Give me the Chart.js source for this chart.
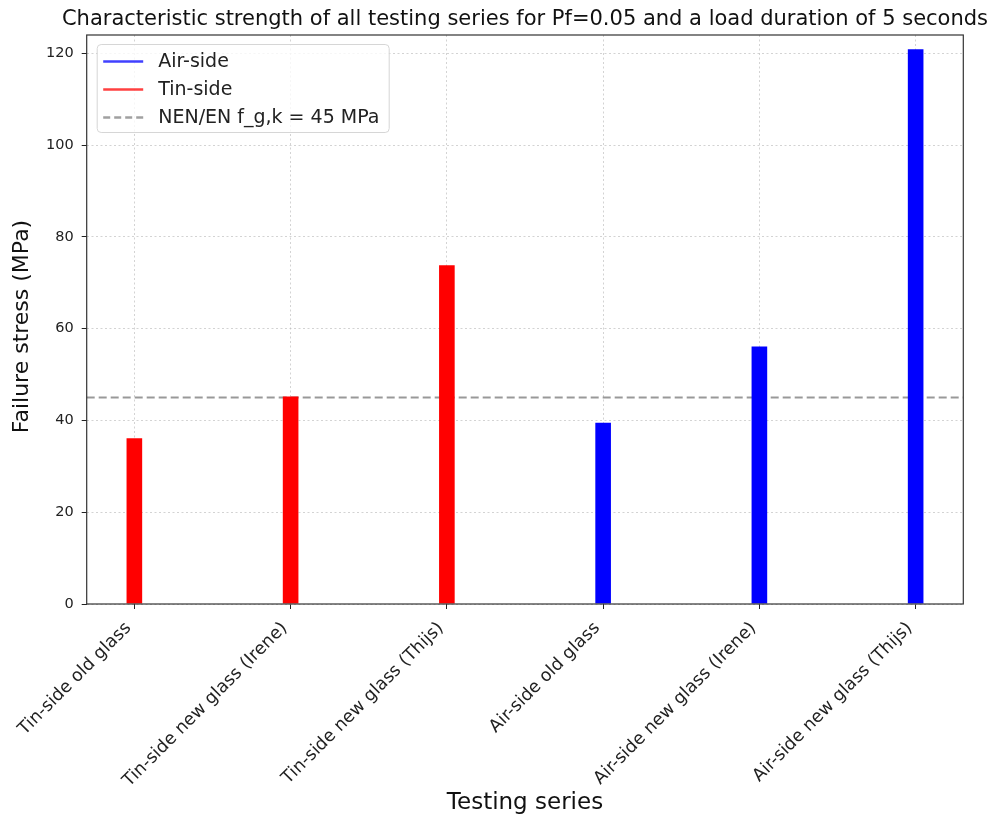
<!DOCTYPE html>
<html>
<head>
<meta charset="utf-8">
<script src="https://cdn.jsdelivr.net/npm/chart.js@4.4.1/dist/chart.umd.min.js"></script>
<style>
  html, body { margin: 0; padding: 0; background: #fff; }
  #wrap { width: 997px; height: 820px; }
</style>
</head>
<body>
<div id="wrap"><canvas id="strengthChart" width="997" height="820"></canvas></div>
<script>
// Testing series, one per x position
const series = ['Tin-side old glass', 'Tin-side new glass (Irene)', 'Tin-side new glass (Thijs)',
                'Air-side old glass', 'Air-side new glass (Irene)', 'Air-side new glass (Thijs)'];
const tinIndex = [0, 1, 2];
const tinStrength = [36.1, 45.2, 73.8];
const airIndex = [3, 4, 5];
const airStrength = [39.5, 56.1, 120.9];
const normValue = 45;
const normLabel = 'NEN/EN f_g,k = 45 MPa';
const chartTitle = 'Characteristic strength of all testing series for Pf=0.05 and a load duration of 5 seconds';
const yTitle = 'Failure stress (MPa)';
const yTicks = [0, 20, 40, 60, 80, 100, 120];
const yMax = 124;
const xMin = -0.305, xMax = 5.305;

const FONT = 'DejaVu Sans';
const gridStyle = {
    color: 'rgba(185,185,185,0.8)',
    lineWidth: 0.8,
    offset: false,
    tickLength: 5,
    tickColor: '#222',
    tickWidth: 1,
    tickBorderDash: []
};
// dotted grid lines (v4 keeps the grid dash under border)
const borderStyle = { display: false, dash: [2, 2.5] };

// title wider than the plot, y title, frame on all four sides, legend box upper left
const framePlugin = {
    id: 'frame',
    afterDraw(chart) {
        const { ctx, chartArea: a } = chart;
        ctx.save();
        ctx.strokeStyle = '#333';
        ctx.lineWidth = 1.2;
        ctx.strokeRect(a.left, a.top, a.right - a.left, a.bottom - a.top);

        ctx.font = '21px "' + FONT + '"';
        ctx.fillStyle = '#111';
        ctx.textAlign = 'center';
        ctx.textBaseline = 'alphabetic';
        ctx.fillText(chartTitle, (a.left + a.right) / 2, a.top - 10.5);

        ctx.save();
        ctx.translate(22, (a.top + a.bottom) / 2 + 7);
        ctx.rotate(-Math.PI / 2);
        ctx.font = '22px "' + FONT + '"';
        ctx.textBaseline = 'middle';
        ctx.fillText(yTitle, 0, 0);
        ctx.restore();

        const entries = [
            { label: 'Air-side', color: 'rgba(0,0,255,0.75)', dash: [] },
            { label: 'Tin-side', color: 'rgba(255,0,0,0.75)', dash: [] },
            { label: normLabel, color: 'rgba(128,128,128,0.75)', dash: [7, 4] }
        ];
        const bx = a.left + 10.5, by = a.top + 9.5, bw = 292, bh = 88;
        ctx.beginPath();
        ctx.roundRect(bx, by, bw, bh, 4);
        ctx.fillStyle = 'rgba(255,255,255,0.8)';
        ctx.fill();
        ctx.strokeStyle = '#d6d6d6';
        ctx.lineWidth = 1;
        ctx.stroke();

        ctx.font = '19px "' + FONT + '"';
        ctx.textBaseline = 'middle';
        ctx.textAlign = 'left';
        entries.forEach((e, i) => {
            const y = by + 17 + i * 28;
            ctx.beginPath();
            ctx.setLineDash(e.dash);
            ctx.strokeStyle = e.color;
            ctx.lineWidth = 2.5;
            ctx.moveTo(bx + 6, y);
            ctx.lineTo(bx + 46, y);
            ctx.stroke();
            ctx.setLineDash([]);
            ctx.fillStyle = '#222';
            ctx.fillText(e.label, bx + 61, y + 1);
        });
        ctx.restore();
    }
};

new Chart(document.getElementById('strengthChart'), {
    data: {
        datasets: [
            {
                type: 'bar',
                label: 'Tin-side',
                data: tinIndex.map((x, i) => ({ x, y: tinStrength[i] })),
                backgroundColor: '#ff0000',
                grouped: false,
                categoryPercentage: 1,
                barPercentage: 0.1
            },
            {
                type: 'bar',
                label: 'Air-side',
                data: airIndex.map((x, i) => ({ x, y: airStrength[i] })),
                backgroundColor: '#0000ff',
                grouped: false,
                categoryPercentage: 1,
                barPercentage: 0.1
            },
            {
                type: 'line',
                label: normLabel,
                data: [{ x: xMin, y: normValue }, { x: xMax, y: normValue }],
                borderColor: 'rgba(128,128,128,0.8)',
                borderWidth: 2,
                borderDash: [8, 4],
                pointRadius: 0,
                fill: false
            }
        ]
    },
    options: {
        responsive: false,
        animation: false,
        layout: { padding: { left: 0, right: 33.7, top: 35, bottom: 0 } },
        plugins: {
            legend: { display: false },
            tooltip: { enabled: false },
            title: { display: false }
        },
        scales: {
            x: {
                type: 'linear',
                min: xMin,
                max: xMax,
                offset: false,
                z: 1,
                afterBuildTicks: s => { s.ticks = series.map((_, i) => ({ value: i })); },
                afterFit: s => { s.height = 216; },
                ticks: {
                    callback: v => series[v],
                    minRotation: 45,
                    maxRotation: 45,
                    autoSkip: false,
                    padding: 9,
                    labelOffset: -6,
                    color: '#222',
                    font: { family: FONT, size: 17.5 }
                },
                grid: gridStyle,
                border: borderStyle,
                title: {
                    display: true,
                    text: 'Testing series',
                    color: '#111',
                    font: { family: FONT, size: 23 },
                    padding: { top: 0, bottom: 3.2 }
                }
            },
            y: {
                min: 0,
                max: yMax,
                z: 1,
                afterBuildTicks: s => { s.ticks = yTicks.map(v => ({ value: v })); },
                afterFit: s => { s.width = 86.7; },
                ticks: {
                    includeBounds: false,
                    padding: 8,
                    color: '#222',
                    font: { family: FONT, size: 14.5 }
                },
                grid: gridStyle,
                border: borderStyle
            }
        }
    },
    plugins: [framePlugin]
});
</script>
</body>
</html>
